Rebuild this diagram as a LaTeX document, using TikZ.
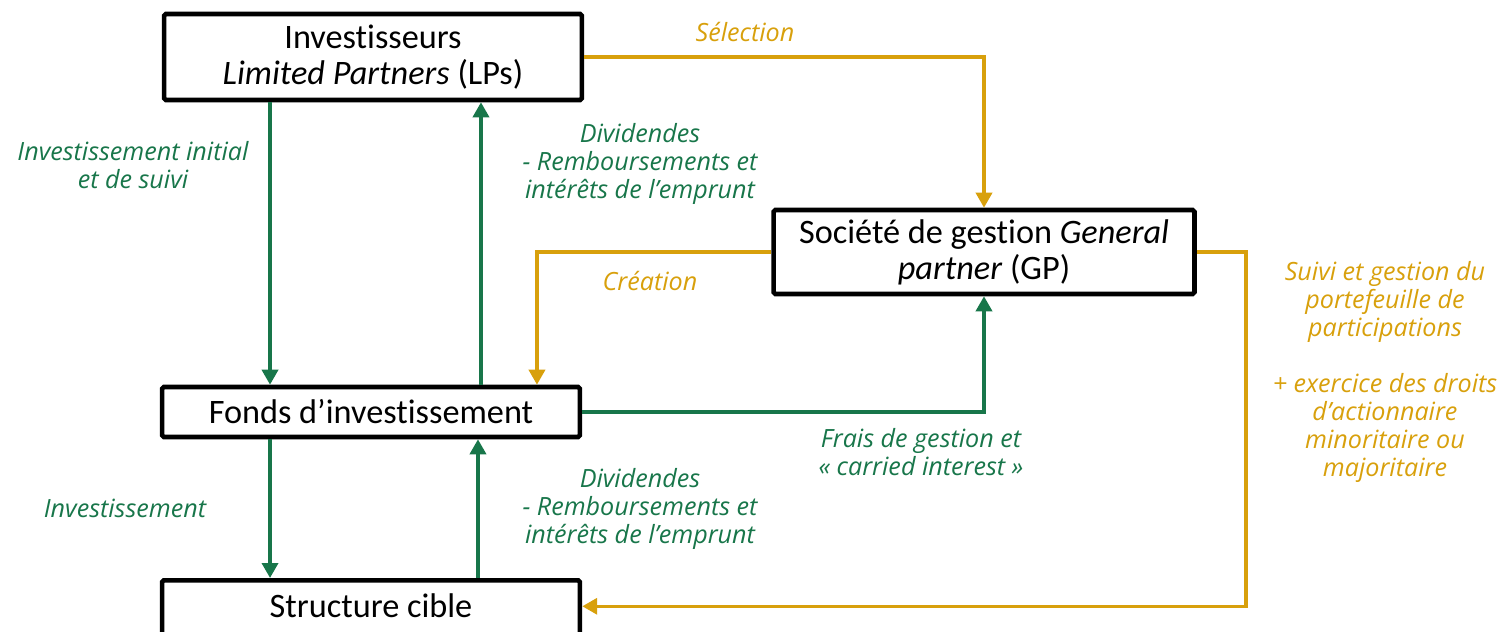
\documentclass[tikz,border=0pt]{standalone}
\usepackage{fontspec}
\setmainfont[Ligatures={NoCommon}]{Carlito}
\newfontfamily\flowfont{Open Sans}
\usetikzlibrary{arrows.meta,positioning}
\definecolor{flowgreen}{RGB}{24,118,74}
\definecolor{floworange}{RGB}{216,160,12}

\begin{document}
\begin{tikzpicture}[x=0.02cm, y=-0.02cm,
    box/.style={draw=black, line width=2.6pt, rounded corners=1pt, minimum width=8.36cm,
      inner sep=0pt, align=center, font=\fontsize{19.5}{20.4}\selectfont},
    lbl/.style={align=center, font=\flowfont\itshape\fontsize{14.3}{15.9}\selectfont},
    greenflow/.style={draw=flowgreen, line width=2pt, -{Triangle[length=0.3cm, width=0.32cm]}},
    orangeflow/.style={draw=floworange, line width=2pt, -{Triangle[length=0.3cm, width=0.32cm]}}]
   \useasboundingbox (0,0) rectangle (1505,632);

   % the four parties
   \node[box, minimum height=1.72cm] (lps) at (373,57) {Investisseurs\\\textit{Limited Partners} (LPs)};
   \node[box, minimum height=1.68cm, minimum width=8.42cm] (gp) at (984,252) {Société de gestion \textit{General}\\\textit{partner} (GP)};
   \node[box, minimum height=1.0cm] (fonds) at (371,412) {Fonds d’investissement};
   \node[box, anchor=north, text height=0.74cm, text depth=0.6cm] (cible) at (371,578) {Structure cible};

   % flow labels
   \node[lbl, text=floworange] (sel) at (745,32) {Sélection};
   \node[lbl, text=flowgreen] (invinit) at (133,165) {Investissement initial\\et de suivi};
   \node[lbl, text=flowgreen] (divlp) at (640,164) {Dividendes\\- Remboursements et\\intérêts de l’emprunt};
   \node[lbl, text=floworange] (crea) at (650,281) {Création};
   \node[lbl, text=floworange] (suivi) at (1385,372) {Suivi et gestion du\\portefeuille de\\participations\\\mbox{}\\+ exercice des droits\\d’actionnaire\\minoritaire ou\\majoritaire};
   \node[lbl, text=flowgreen] (frais) at (921,452) {Frais de gestion et\\« carried interest »};
   \node[lbl, text=flowgreen] (invest) at (125,508) {Investissement};
   \node[lbl, text=flowgreen] (divfonds) at (640,509) {Dividendes\\- Remboursements et\\intérêts de l’emprunt};

   % money flows
   \draw[greenflow] ([xshift=-2.06cm]lps.south) -- ([xshift=-2.06cm]lps.south |- fonds.north);
   \draw[greenflow] ([xshift=2.2cm]fonds.north) -- ([xshift=2.2cm]fonds.north |- lps.south);
   \draw[greenflow] ([xshift=-2.02cm]fonds.south) -- ([xshift=-2.02cm]fonds.south |- cible.north);
   \draw[greenflow] ([xshift=2.14cm]cible.north) -- ([xshift=2.14cm]cible.north |- fonds.south);
   \draw[greenflow] (fonds.east) -| (gp.south);

   % management links
   \draw[orangeflow] (lps.east) -| (gp.north);
   \draw[orangeflow] (gp.west) -| ([xshift=3.32cm]fonds.north);
   \draw[orangeflow] (gp.east) -- ++(49,0) |- ([yshift=0.15cm]cible.east);
\end{tikzpicture}
\end{document}
